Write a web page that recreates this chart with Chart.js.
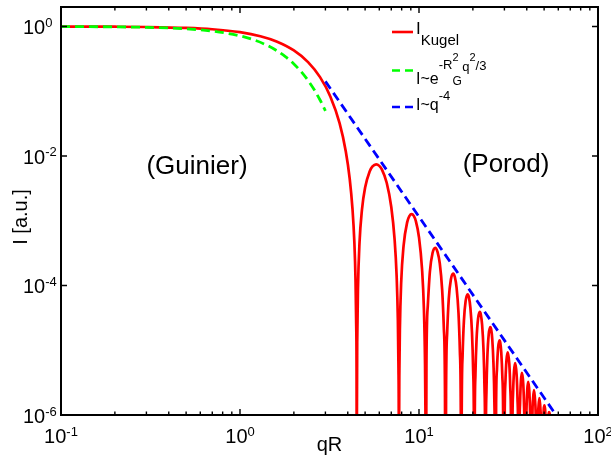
<!DOCTYPE html>
<html><head><meta charset="utf-8">
<script src="https://cdn.jsdelivr.net/npm/chart.js@4/dist/chart.umd.min.js"></script>
<style>html,body{margin:0;padding:0;background:#fff;overflow:hidden;} canvas{display:block;}</style>
</head><body>
<canvas id="c" width="611" height="461"></canvas>
<script>
// ---- data ----
const redQ = [0.1,0.2,0.3,0.5,0.7,1.0,1.3,1.6,2.0,2.4,2.8,3.2,3.6,3.9,4.1,4.25,4.35,4.42,4.46,4.48,4.4934,
4.50,4.52,4.56,4.65,4.8,5.0,5.3,5.5,5.763,6.0,6.2,6.6,7.0,7.3,7.5,7.62,7.68,7.71,7.7253,
7.74,7.77,7.82,7.95,8.2,8.6,8.85,9.095,9.35,9.6,10.0,10.4,10.65,10.8,10.86,10.89,10.9041,
11.004,11.204,11.504,11.904,12.32,12.7,13.066,13.466,13.766,13.966,14.0662,
14.1662,14.3662,14.6662,15.0662,15.508,15.85,16.2208,16.6208,16.9208,17.1208,17.2208,
17.3208,17.5208,17.8208,18.2208,18.685,19.0,19.3713,19.7713,20.0713,20.2713,20.3713,
20.4713,20.6713,20.9713,21.3713,21.851,22.15,22.5195,22.9195,23.2195,23.4195,23.5195,
23.6195,23.8195,24.1195,24.5195,25.011,25.3,25.6661,26.0661,26.3661,26.5661,26.6661,
26.9661,27.2661,27.6661,28.166,28.45,28.8116,29.2116,29.5116,29.8116,
30.1116,30.4116,30.8116,31.319,31.9564,32.3564,32.6564,32.9564,
33.2564,33.5564,33.9564,34.469,35.1006,35.5006,35.8006,36.1006,
36.4006,36.7006,37.1006,37.618,38.2444,38.6444,38.9444,39.2444,
39.5444,39.8444,40.2444,40.766,41.3879,41.7879,42.0879,42.3879,
42.9879,43.3879,43.913,44.5311,44.9311,45.5311,
46.1311,46.5311,47.059,47.6741,48.0741,48.6741,
49.6741,49.9741,50.205,50.517,50.817,51.817,
52.817,53.35,53.96,54.96];
const redI = [0.998,0.992,0.9821,0.9511,0.906,0.8163,0.7071,0.5873,0.4265,0.2816,0.1651,0.08244,0.03209,0.01175,0.004485,0.00153,0.0004928,0.0001211,0.00002374,0.000003579,1e-9,
1.114e-6,1.562e-5,8.783e-5,4.465e-4,0.001476,0.003255,0.005773,0.00689,0.00742,0.007038,0.006212,0.003868,0.001633,0.0005296,0.0001396,2.875e-5,5.134e-6,5.83e-7,1e-9,
5.36e-7,4.858e-6,2.119e-5,1.101e-4,4.101e-4,9.607e-4,0.00119,0.001268,0.00119,9.899e-4,5.541e-4,1.783e-4,4.402e-5,6.962e-6,1.248e-6,1.27e-7,1e-9,
6.118e-6,4.988e-5,1.638e-4,3.174e-4,3.82e-4,3.288e-4,2.187e-4,8.727e-5,2.189e-5,2.358e-6,1e-9,
2.227e-6,1.845e-5,6.202e-5,1.237e-4,1.531e-4,1.363e-4,9.206e-5,3.76e-5,9.588e-6,1.044e-6,1e-9,
9.966e-7,8.34e-6,2.845e-5,5.782e-5,7.3e-5,6.612e-5,4.526e-5,1.878e-5,4.843e-6,5.312e-7,1e-9,
5.108e-7,4.305e-6,1.483e-5,3.055e-5,3.915e-5,3.58e-5,2.478e-5,1.04e-5,2.704e-6,2.982e-7,1e-9,
2.882e-7,2.442e-6,8.478e-6,1.763e-5,2.285e-5,2.103e-5,1.469e-5,6.216e-6,1.626e-6,1.801e-7,1e-9,
1.486e-6,5.192e-6,1.088e-5,1.423e-5,1.313e-5,9.248e-6,3.941e-6,1.036e-6,1e-9,
9.56e-7,3.355e-6,7.071e-6,9.316e-6,6.111e-6,2.618e-6,6.911e-7,1e-9,
6.425e-7,2.263e-6,4.793e-6,6.354e-6,4.198e-6,1.807e-6,4.785e-7,1e-9,
4.477e-7,1.582e-6,3.364e-6,4.482e-6,2.979e-6,1.287e-6,3.417e-7,1e-9,
3.214e-7,1.138e-6,2.429e-6,3.251e-6,2.172e-6,9.41e-7,2.505e-7,1e-9,
8.402e-7,1.798e-6,2.415e-6,1.621e-6,7.04e-7,1e-9,
6.336e-7,1.359e-6,1.832e-6,1.234e-6,5.372e-7,1e-9,
1.047e-6,1.34e-6,1.414e-6,1.283e-6,9.556e-7,1e-9,
8.19e-7,1.109e-6,7.517e-7,1e-9];
const guinierQ = [0.1,0.2,0.3,0.5,0.7,1.0,1.2,1.4,1.6,1.8,2.0,2.2,2.4,2.6,2.8,2.9,3.0];
const guinierI = [0.9967,0.9868,0.9704,0.92,0.8493,0.7165,0.6188,0.5203,0.426,0.3396,0.2636,0.1992,0.1466,0.1051,0.0733,0.0606,0.0498];
const porodQ = [3, 60];
const porodI = [0.142, 8.9e-7];

const xTickValues = [0.1, 1, 10, 100];
const xTickExp = ['-1', '0', '1', '2'];
const xMinorValues = [0.2,0.3,0.4,0.5,0.6,0.7,0.8,0.9,2,3,4,5,6,7,8,9,20,30,40,50,60,70,80,90];
const yTickValues = [1e-6, 1e-4, 1e-2, 1];
const yTickExp = ['-6', '-4', '-2', '0'];

const xTitle = 'qR';
const yTitle = 'I [a.u.]';
const noteLeft = '(Guinier)';
const noteRight = '(Porod)';

// ---- drawing ----
const FONT = '"Liberation Sans", Arial, Helvetica, sans-serif';
const fnt = s => s + 'px ' + FONT;
function drawRich(ctx, x, y, parts, align) {
  let w = 0;
  parts.forEach(p => { ctx.font = fnt(p.s); p.w = ctx.measureText(p.t).width; if (!p.stack) w += p.w + (p.gap || 0); });
  let cx = align === 'center' ? x - w / 2 : (align === 'right' ? x - w : x);
  ctx.textAlign = 'left'; ctx.textBaseline = 'alphabetic';
  parts.forEach(p => {
    ctx.font = fnt(p.s);
    ctx.fillText(p.t, cx + (p.dx || 0), y + (p.dy || 0));
    if (!p.stack) cx += p.w + (p.gap || 0);
  });
}

const decor = {
  id: 'decor',
  beforeDraw(chart) {
    const ctx = chart.ctx;
    ctx.save(); ctx.fillStyle = '#fff'; ctx.fillRect(0, 0, chart.width, chart.height); ctx.restore();
  },
  afterDatasetsDraw(chart) {
    const { ctx, chartArea: a, scales: { x, y } } = chart;
    ctx.save();
    ctx.strokeStyle = '#000'; ctx.fillStyle = '#000';
    // tick marks (inside)
    ctx.lineWidth = 1.4;
    ctx.beginPath();
    xMinorValues.forEach(v => {
      const px = x.getPixelForValue(v);
      ctx.moveTo(px, a.bottom); ctx.lineTo(px, a.bottom - 3.5);
      ctx.moveTo(px, a.top); ctx.lineTo(px, a.top + 3.5);
    });
    xTickValues.forEach(v => {
      const px = x.getPixelForValue(v);
      ctx.moveTo(px, a.bottom); ctx.lineTo(px, a.bottom - 6);
      ctx.moveTo(px, a.top); ctx.lineTo(px, a.top + 6);
    });
    yTickValues.forEach(v => {
      const py = y.getPixelForValue(v);
      ctx.moveTo(a.left, py); ctx.lineTo(a.left + 6, py);
      ctx.moveTo(a.right, py); ctx.lineTo(a.right - 6, py);
    });
    ctx.stroke();
    // frame
    ctx.lineWidth = 2;
    ctx.strokeRect(a.left, a.top, a.right - a.left, a.bottom - a.top);

    // tick labels
    xTickValues.forEach((v, i) => {
      const px = x.getPixelForValue(v);
      drawRich(ctx, px, 443, [{ t: '10', s: 20 }, { t: xTickExp[i], s: 13, dy: -7.5, gap: 0 }], 'center');
    });
    yTickValues.forEach((v, i) => {
      const py = y.getPixelForValue(v);
      drawRich(ctx, 23, py + 8, [{ t: '10', s: 20 }, { t: yTickExp[i], s: 13, dy: -7.5 }], 'left');
    });

    // axis titles
    ctx.font = fnt(20); ctx.textAlign = 'center'; ctx.textBaseline = 'alphabetic';
    ctx.fillText(xTitle, (a.left + a.right) / 2, 451);
    ctx.save();
    ctx.translate(27, 217); ctx.rotate(-Math.PI / 2);
    ctx.fillText(yTitle, 0, 0);
    ctx.restore();

    // annotations
    ctx.font = fnt(26); ctx.textAlign = 'center';
    ctx.fillText(noteLeft, 197, 174);
    ctx.fillText(noteRight, 506, 172);

    // legend
    const lx0 = 392, lx1 = 413, tx = 416;
    ctx.lineWidth = 2.6;
    ctx.strokeStyle = '#ff0000'; ctx.setLineDash([]);
    ctx.beginPath(); ctx.moveTo(lx0, 32); ctx.lineTo(lx1, 32); ctx.stroke();
    ctx.strokeStyle = '#00ff00'; ctx.setLineDash([8, 5]);
    ctx.beginPath(); ctx.moveTo(lx0, 70.5); ctx.lineTo(lx1, 70.5); ctx.stroke();
    ctx.strokeStyle = '#0000ff';
    ctx.beginPath(); ctx.moveTo(lx0, 107); ctx.lineTo(lx1, 107); ctx.stroke();
    ctx.setLineDash([]);
    ctx.fillStyle = '#000';
    drawRich(ctx, tx, 34, [{ t: 'I', s: 17 }, { t: 'Kugel', s: 15, dy: 11 }], 'left');
    drawRich(ctx, tx, 84, [
      { t: 'I~e', s: 16 },
      { t: '-R', s: 13, dy: -15 },
      { t: '2', s: 11, dy: -23, stack: true },
      { t: 'G', s: 12, dy: 1, gap: 0.5 },
      { t: 'q', s: 13, dy: -13 },
      { t: '2', s: 11, dy: -23 },
      { t: '/3', s: 13, dy: -14 }
    ], 'left');
    drawRich(ctx, tx, 110, [{ t: 'I~q', s: 16 }, { t: '-4', s: 13, dy: -10 }], 'left');
    ctx.restore();
  }
};

const pts = (qs, is) => qs.map((q, i) => ({ x: q, y: is[i] }));

new Chart(document.getElementById('c'), {
  type: 'line',
  data: {
    datasets: [
      { label: 'I_Kugel', data: pts(redQ, redI), borderColor: '#ff0000', borderWidth: 2.7,
        pointRadius: 0, fill: false, cubicInterpolationMode: 'monotone', order: 3 },
      { label: 'Guinier', data: pts(guinierQ, guinierI), borderColor: '#00ff00', borderWidth: 2.8,
        borderDash: [9, 5], pointRadius: 0, fill: false, cubicInterpolationMode: 'monotone', order: 2 },
      { label: 'Porod', data: pts(porodQ, porodI), borderColor: '#0000ff', borderWidth: 2.8,
        borderDash: [9, 5], pointRadius: 0, fill: false, order: 1 }
    ]
  },
  options: {
    responsive: false,
    devicePixelRatio: 1,
    animation: false,
    layout: { padding: { left: 61, right: 13, top: 7, bottom: 46 } },
    plugins: { legend: { display: false }, tooltip: { enabled: false } },
    scales: {
      x: { type: 'logarithmic', min: 0.1, max: 100, display: false },
      y: { type: 'logarithmic', min: 1e-6, max: 2, display: false }
    }
  },
  plugins: [decor]
});
</script>
</body></html>
